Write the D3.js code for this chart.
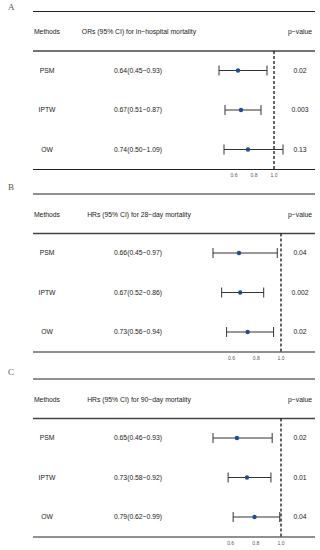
<!DOCTYPE html>
<html><head><meta charset="utf-8">
<script src="https://cdn.jsdelivr.net/npm/d3@7"></script>
<style>body{margin:0;background:#fff}svg{display:block}</style>
</head><body>
<svg id="c" width="320" height="550"></svg>
<script>
const methods = ["PSM","IPTW","OW"];
const panelLabels = ["A","B","C"];
const titles = ["ORs (95% CI) for in\u2212hospital mortality","HRs (95% CI) for 28\u2212day mortality","HRs (95% CI) for 90\u2212day mortality"];
const estA = [0.64,0.67,0.74], lowA = [0.45,0.51,0.50], upA = [0.93,0.87,1.09], pA = ["0.02","0.003","0.13"];
const estB = [0.66,0.67,0.73], lowB = [0.45,0.52,0.56], upB = [0.97,0.86,0.94], pB = ["0.04","0.002","0.02"];
const estC = [0.65,0.73,0.79], lowC = [0.46,0.58,0.62], upC = [0.93,0.92,0.99], pC = ["0.02","0.01","0.04"];
const ticks = [0.6,0.8,1.0];

const panels = [
  {est:estA, low:lowA, up:upA, p:pA, top:11.5, r:[219,274]},
  {est:estB, low:lowB, up:upB, p:pB, top:194, r:[213,281]},
  {est:estC, low:lowC, up:upC, p:pC, top:379, r:[213,281]}
];
const svg = d3.select("#c");
const font = "Liberation Sans, Arial, sans-serif";
const xL = 33, xR = 315;
panels.forEach((P,i)=>{
  const g = svg.append("g").attr("transform",`translate(0,${P.top})`);
  const x = d3.scaleLinear().domain([0.45,1.0]).range(P.r);
  if(i===2) x.domain([0.46,1.0]);
  const y = d3.scalePoint().domain(methods).range([59,138]);
  g.append("text").attr("x",8).attr("y",i===0?-1.5:-4).text(panelLabels[i])
    .attr("font-family","Liberation Serif, Times New Roman, serif").attr("font-size",9).attr("fill","#555");
  // lines
  g.append("line").attr("x1",xL).attr("x2",xR).attr("y1",0).attr("y2",0).attr("stroke","#222").attr("stroke-width",1.1);
  g.append("line").attr("x1",xL).attr("x2",xR).attr("y1",39.5).attr("y2",39.5).attr("stroke","#444").attr("stroke-width",1.4);
  g.append("line").attr("x1",xL).attr("x2",xR).attr("y1",158).attr("y2",158).attr("stroke","#222").attr("stroke-width",1.1);
  // header
  const hdr = g.append("g").attr("font-family",font).attr("font-size",6.8).attr("fill","#222");
  hdr.append("text").attr("x",47).attr("y",20.5).attr("dy","0.35em").attr("text-anchor","middle").text("Methods");
  hdr.append("text").attr("x",139).attr("y",20.5).attr("dy","0.35em").attr("text-anchor","middle").text(titles[i]);
  hdr.append("text").attr("x",300).attr("y",20.5).attr("dy","0.35em").attr("text-anchor","middle").text("p\u2212value");
  // dashed ref line
  g.append("line").attr("x1",x(1)).attr("x2",x(1)).attr("y1",39.5).attr("y2",158)
    .attr("stroke","#111").attr("stroke-width",1.3).attr("stroke-dasharray","3,2");
  methods.forEach((m,j)=>{
    const yy = y(m);
    const t = g.append("g").attr("font-family",font).attr("font-size",6.8).attr("fill","#222");
    t.append("text").attr("x",47).attr("y",yy).attr("dy","0.35em").attr("text-anchor","middle").text(m);
    t.append("text").attr("x",138).attr("y",yy).attr("dy","0.35em").attr("text-anchor","middle")
      .text(`${P.est[j].toFixed(2)}(${P.low[j].toFixed(2)}\u2212${P.up[j].toFixed(2)})`);
    t.append("text").attr("x",300).attr("y",yy).attr("dy","0.35em").attr("text-anchor","middle").text(P.p[j]);
    const eb = g.append("g").attr("stroke","#333").attr("stroke-width",1);
    eb.append("line").attr("x1",x(P.low[j])).attr("x2",x(P.up[j])).attr("y1",yy).attr("y2",yy);
    eb.append("line").attr("x1",x(P.low[j])).attr("x2",x(P.low[j])).attr("y1",yy-5).attr("y2",yy+5);
    eb.append("line").attr("x1",x(P.up[j])).attr("x2",x(P.up[j])).attr("y1",yy-5).attr("y2",yy+5);
    g.append("circle").attr("cx",x(P.est[j])).attr("cy",yy).attr("r",2.2).attr("fill","#1f4e96");
  });
  // tick labels
  g.selectAll(".tk").data(ticks).enter().append("text")
    .attr("x",d=>x(d)).attr("y",164).attr("dy","0.35em").attr("text-anchor","middle")
    .attr("font-family",font).attr("font-size",5).attr("fill","#555").text(d=>d.toFixed(1));
});
</script>
</body></html>
